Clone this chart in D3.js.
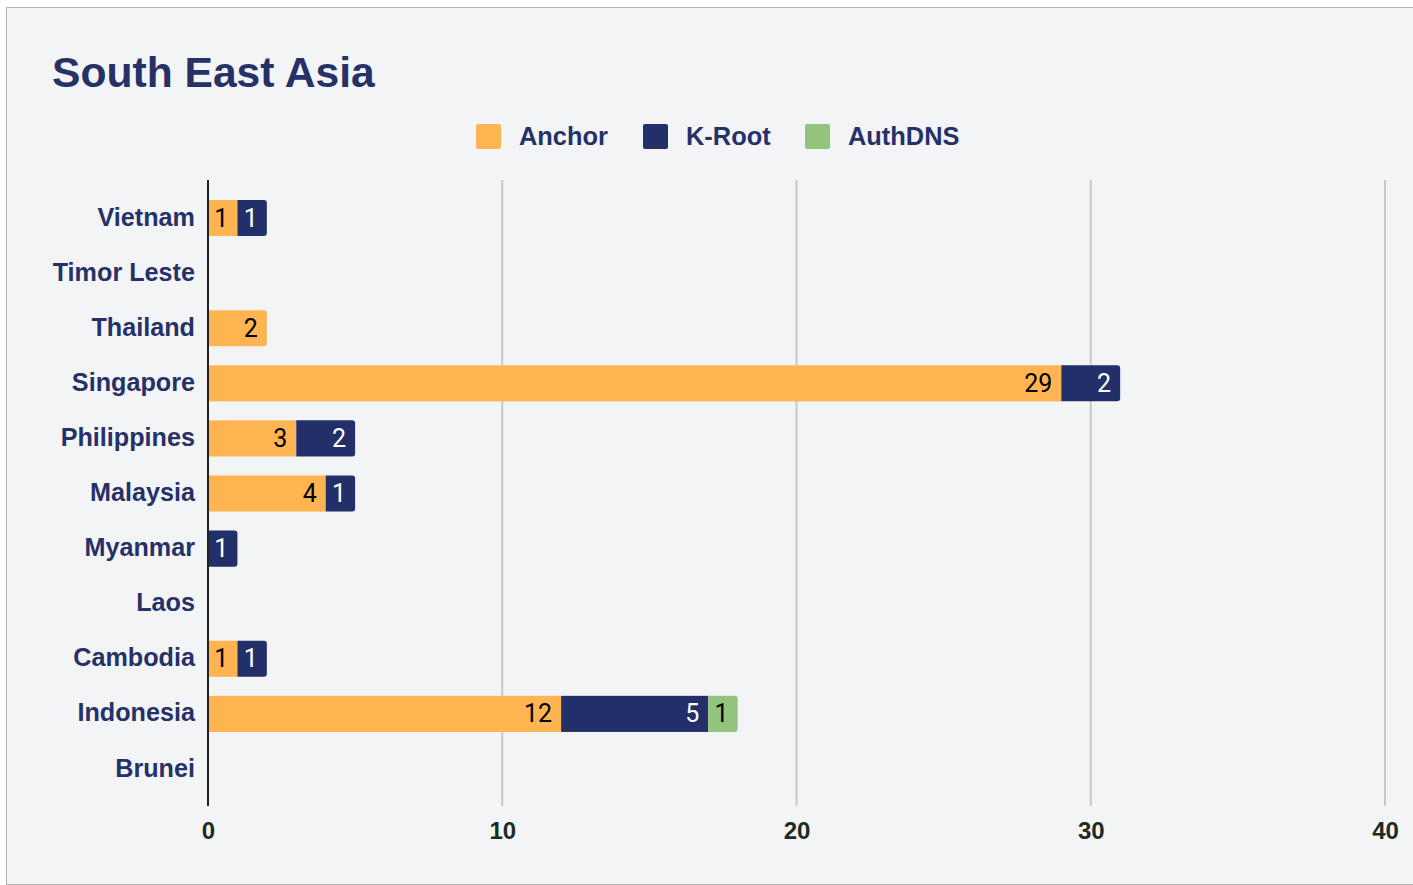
<!DOCTYPE html>
<html><head><meta charset="utf-8">
<script src="https://cdn.jsdelivr.net/npm/d3@7"></script>
<style>html,body{margin:0;padding:0;background:#fff;}svg{display:block;}</style>
</head><body>
<svg id="c" width="1413" height="885"></svg>
<script>
const categories = ["Vietnam","Timor Leste","Thailand","Singapore","Philippines","Malaysia","Myanmar","Laos","Cambodia","Indonesia","Brunei"];
const seriesNames = ["Anchor","K-Root","AuthDNS"];
const anchor = [1,0,2,29,3,4,0,0,1,12,0];
const kroot  = [1,0,0,2,2,1,1,0,1,5,0];
const authdns= [0,0,0,0,0,0,0,0,0,1,0];
const xTicks = [0,10,20,30,40];
const colors = ["#ffb452","#232f69","#93c47d"];
const labelColors = ["#000","#fff","#000"];
const SANS = "'Liberation Sans', Arial, Helvetica, sans-serif";

const svg = d3.select("#c");
svg.append("rect").attr("x",6.5).attr("y",7.5).attr("width",1412).attr("height",877)
  .attr("fill","#f3f4f6").attr("stroke","#b3b3b3").attr("stroke-width",1);

svg.append("text").attr("x",52).attr("y",87).text("South East Asia")
  .attr("font-family",SANS).attr("font-weight","bold")
  .attr("font-size",42.6).attr("fill","#253167");

// legend
const legX = [476,643,805];
seriesNames.forEach((s,i)=>{
  svg.append("rect").attr("x",legX[i]).attr("y",124).attr("width",25).attr("height",25).attr("rx",2).attr("fill",colors[i]);
  svg.append("text").attr("x",legX[i]+43).attr("y",145).text(s)
    .attr("font-family",SANS).attr("font-weight","bold")
    .attr("font-size",25.4).attr("fill","#253167");
});

const x = d3.scaleLinear().domain([0,40]).range([208,1385]);
const y = d3.scaleBand().domain(categories).range([190.5,796.5]).paddingInner(0.345).paddingOuter(0.172);

// grid
const gridG = svg.append("g");
xTicks.forEach(t=>{
  if(t===0) return;
  gridG.append("line").attr("x1",x(t)).attr("x2",x(t)).attr("y1",180).attr("y2",806)
    .attr("stroke","#c8c8c8").attr("stroke-width",2);
});

// axis
const ax = svg.append("g").attr("transform","translate(0,806)")
  .call(d3.axisBottom(x).tickValues(xTicks).tickSize(0).tickPadding(16));
ax.select(".domain").remove();
ax.selectAll("text").attr("font-family",SANS).attr("font-weight","bold")
  .attr("font-size",24).attr("fill","#1f2b1f");

// y labels
const yG = svg.append("g").attr("transform","translate(195,0)")
  .call(d3.axisLeft(y).tickSize(0).tickPadding(0));
yG.select(".domain").remove();
yG.selectAll("text").attr("font-family",SANS).attr("font-weight","bold")
  .attr("font-size",25.2).attr("fill","#253167").attr("dy","0.3em");

// bars
const data = categories.map((c,i)=>({c, vals:[anchor[i],kroot[i],authdns[i]]}));
const barG = svg.append("g");
data.forEach(d=>{
  let acc = 0;
  const lastIdx = d.vals.reduce((m,v,i)=> v>0 ? i : m, -1);
  d.vals.forEach((v,i)=>{
    if(v<=0) return;
    const x0 = x(acc), x1 = x(acc+v), y0 = y(d.c), h = y.bandwidth();
    if(i===lastIdx){
      const r=3;
      barG.append("path").attr("fill",colors[i])
        .attr("d",`M${x0},${y0}H${x1-r}Q${x1},${y0} ${x1},${y0+r}V${y0+h-r}Q${x1},${y0+h} ${x1-r},${y0+h}H${x0}Z`);
    } else {
      barG.append("rect").attr("x",x0).attr("y",y0).attr("width",x1-x0).attr("height",h).attr("fill",colors[i]);
    }
    barG.append("text").attr("x",x1-9).attr("y",y0+h/2).attr("dy","0.34em").attr("text-anchor","end")
      .text(v).attr("font-family","Roboto, sans-serif").attr("font-size",25).attr("fill",labelColors[i]);
    acc += v;
  });
});

// zero axis line
svg.append("line").attr("x1",x(0)).attr("x2",x(0)).attr("y1",180).attr("y2",806)
  .attr("stroke","#222").attr("stroke-width",2);
</script>
</body></html>
